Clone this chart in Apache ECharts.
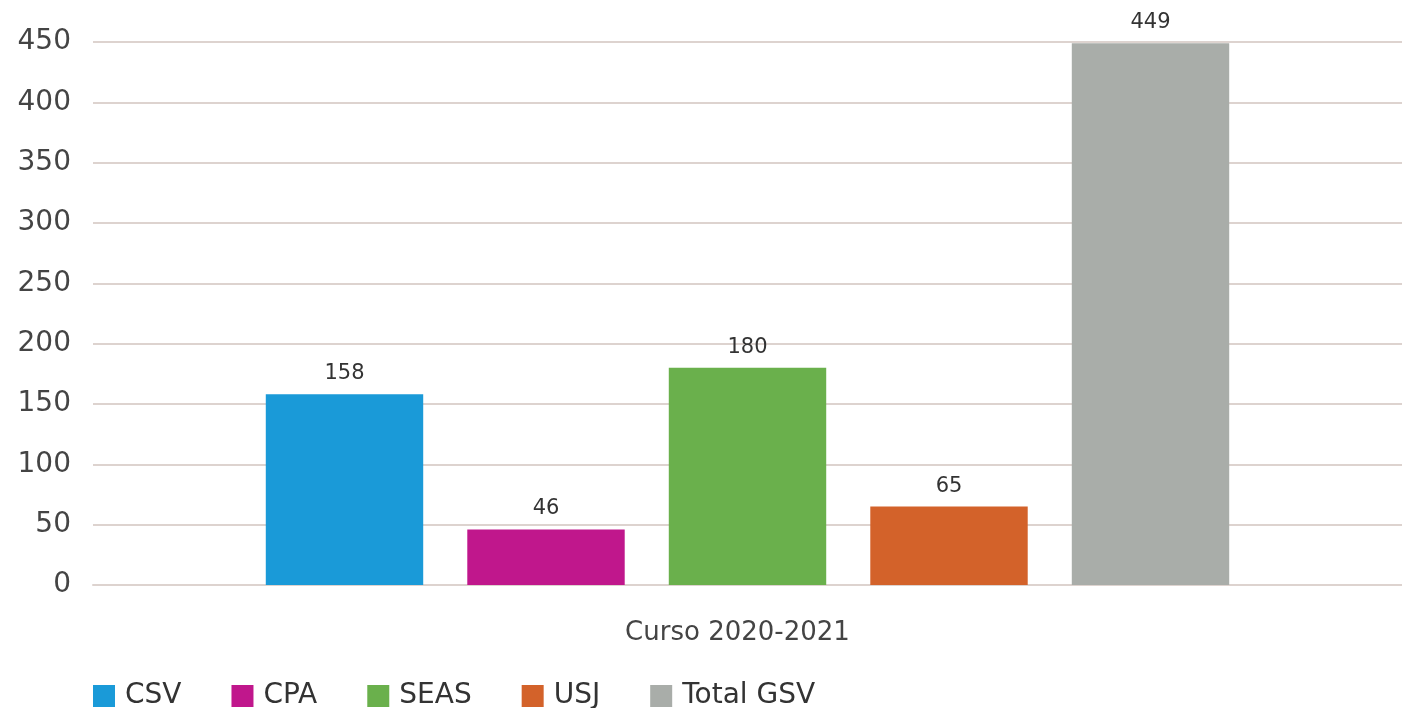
<!DOCTYPE html>
<html>
	<head>
		<meta charset="UTF-8">
		<title></title>
		<script src="https://cdn.jsdelivr.net/npm/echarts@6/dist/echarts.min.js"></script>
		<style>
			html, body { margin: 0; padding: 0; background: #fff; }
		</style>
	</head>
	<body>
		<div id="main" style="width: 1402px; height: 708px;"></div>
		<script type="text/javascript">
			// datos
			var categorias = ['Curso 2020-2021'];
			var seriesNombres = ['CSV', 'CPA', 'SEAS', 'USJ', 'Total GSV'];
			var seriesValores = [[158], [46], [180], [65], [449]];
			var colores = ['#1a9ad8', '#c0178c', '#6ab04c', '#d3622a', '#a9ada9'];

			var myChart = echarts.init(document.getElementById('main'));
			var fuente = 'DejaVu Sans';

			var series = seriesNombres.map(function(n, i) {
				return {
					name: n,
					type: 'bar',
					data: seriesValores[i],
					itemStyle: { color: colores[i] },
					barGap: '28%',
					barCategoryGap: '26.4%',
					label: {
						show: true,
						position: 'top',
						distance: 10,
						color: '#333',
						fontSize: 21,
						fontFamily: fuente
					}
				};
			});

			var option = {
				animation: false,
				grid: { left: 93, right: -3, top: 42, bottom: 123, containLabel: false },
				legend: {
					data: seriesNombres,
					left: 88,
					bottom: -7,
					itemWidth: 22,
					itemHeight: 22,
					itemGap: 50,
					icon: 'rect',
					textStyle: { fontSize: 28, color: '#333', fontFamily: fuente, padding: [0, 0, 0, 5] }
				},
				xAxis: {
					type: 'category',
					data: categorias,
					axisLine: { show: true, lineStyle: { color: '#ddd3cf', width: 2 } },
					axisTick: { show: false },
					axisLabel: { margin: 35, fontSize: 26, color: '#444', fontFamily: fuente, padding: [0, 20, 0, 0] }
				},
				yAxis: {
					type: 'value',
					min: 0,
					max: 450,
					interval: 50,
					axisLine: { show: false },
					axisTick: { show: false },
					splitLine: { lineStyle: { color: '#ddd3cf', width: 2 } },
					axisLabel: { margin: 22, fontSize: 28, color: '#444', fontFamily: fuente }
				},
				series: series
			};
			myChart.setOption(option);
		</script>
	</body>
</html>
